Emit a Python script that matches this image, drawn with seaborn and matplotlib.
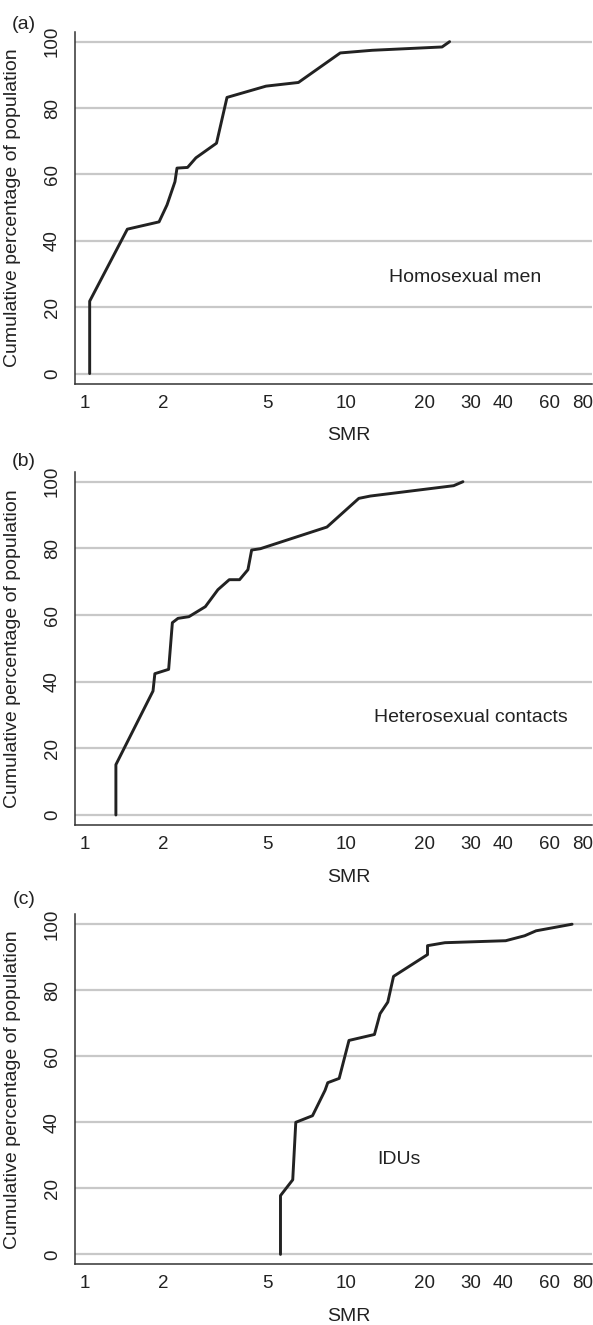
import numpy as np
import pandas as pd
import matplotlib
matplotlib.use("Agg")
import matplotlib.pyplot as plt
import seaborn as sns

# Panel (a) Homosexual men
smr_a = [1.048, 1.048, 1.46, 1.93, 2.07, 2.22, 2.26, 2.48, 2.67, 3.2, 3.51, 4.95, 6.58, 9.51, 12.6, 23.3, 24.9]
pct_a = [0, 21.8, 43.5, 45.7, 50.8, 57.8, 61.9, 62.1, 65.0, 69.4, 83.2, 86.6, 87.7, 96.6, 97.4, 98.4, 100]

# Panel (b) Heterosexual contacts
smr_b = [1.32, 1.32, 1.83, 1.86, 2.10, 2.17, 2.28, 2.51, 2.90, 3.24, 3.58, 3.92, 4.22, 4.36, 4.71, 8.46, 11.2, 12.4, 25.8, 28.0]
pct_b = [0, 15.1, 37.2, 42.4, 43.7, 57.7, 59.0, 59.5, 62.5, 67.6, 70.6, 70.6, 73.6, 79.5, 79.9, 86.4, 95.0, 95.7, 98.8, 100]

# Panel (c) IDUs
smr_c = [5.62, 5.62, 6.26, 6.43, 7.45, 8.32, 8.52, 9.42, 10.27, 12.85, 13.5, 14.45, 15.2, 20.5, 20.5, 23.9, 40.8, 48.2, 53.3, 73.2]
pct_c = [0, 17.8, 22.6, 40.0, 42.0, 49.7, 52.0, 53.3, 64.8, 66.6, 72.9, 76.4, 84.2, 90.8, 93.5, 94.4, 95.0, 96.5, 98.0, 100]

panel_tags = ["(a)", "(b)", "(c)"]
group_names = ["Homosexual men", "Heterosexual contacts", "IDUs"]
label_pos = [(28.5, 29), (30, 29.3), (16, 28.8)]

x_ticks = [1, 2, 5, 10, 20, 30, 40, 60, 80]
y_ticks = [0, 20, 40, 60, 80, 100]

sns.set_style("white")
plt.rcParams['font.family'] = ['Liberation Sans', 'DejaVu Sans']

fig = plt.figure(figsize=(5.93, 13.25), dpi=100)
H = 1325.0
W = 593.0
boxes = [(31.7, 383.5), (471.7, 825.0), (914.3, 1264.3)]
tag_y = [24.5, 461.0, 900.0]

data = [(smr_a, pct_a), (smr_b, pct_b), (smr_c, pct_c)]
grid_col = "#c8c8c8"
spine_col = "#333333"

for i, ((top, bot), (xs, ys)) in enumerate(zip(boxes, data)):
    ax = fig.add_axes([75 / W, 1 - bot / H, 517 / W, (bot - top) / H])
    df = pd.DataFrame({"SMR": xs, "pct": ys})
    for yv in y_ticks:
        ax.axhline(yv, color=grid_col, lw=1.6, zorder=0)
    sns.lineplot(data=df, x="SMR", y="pct", sort=False, estimator=None,
                 color="#222222", lw=2.1, ax=ax, zorder=3)
    ax.set_xscale("log")
    ax.set_xlim(0.921, 87.2)
    ax.set_ylim(-3, 103)
    ax.set_xticks(x_ticks)
    ax.set_xticklabels([str(t) for t in x_ticks])
    ax.minorticks_off()
    ax.set_yticks(y_ticks)
    ax.set_yticklabels([str(t) for t in y_ticks], rotation=90, va="center")
    ax.tick_params(axis="x", length=5, width=1, color=spine_col, labelsize=13.5,
                   pad=3, labelcolor="#222222")
    ax.tick_params(axis="y", length=6, width=1.6, color=grid_col, labelsize=13.5,
                   pad=4, labelcolor="#222222")
    for s in ["top", "right"]:
        ax.spines[s].set_visible(False)
    for s in ["left", "bottom"]:
        ax.spines[s].set_color(spine_col)
        ax.spines[s].set_linewidth(1.1)
    ax.set_xlabel("SMR", fontsize=14, color="#222222")
    ax.set_ylabel("Cumulative percentage of population", fontsize=14, color="#222222")
    ax.xaxis.set_label_coords(0.529, -0.125)
    ax.yaxis.set_label_coords(-0.104, 0.5)
    ax.text(label_pos[i][0], label_pos[i][1], group_names[i], fontsize=14,
            ha="center", va="center", color="#222222")
    fig.text(24 / W, 1 - tag_y[i] / H, panel_tags[i], fontsize=14,
             ha="center", va="center", color="#222222")

fig.savefig("out.png", dpi=100)
